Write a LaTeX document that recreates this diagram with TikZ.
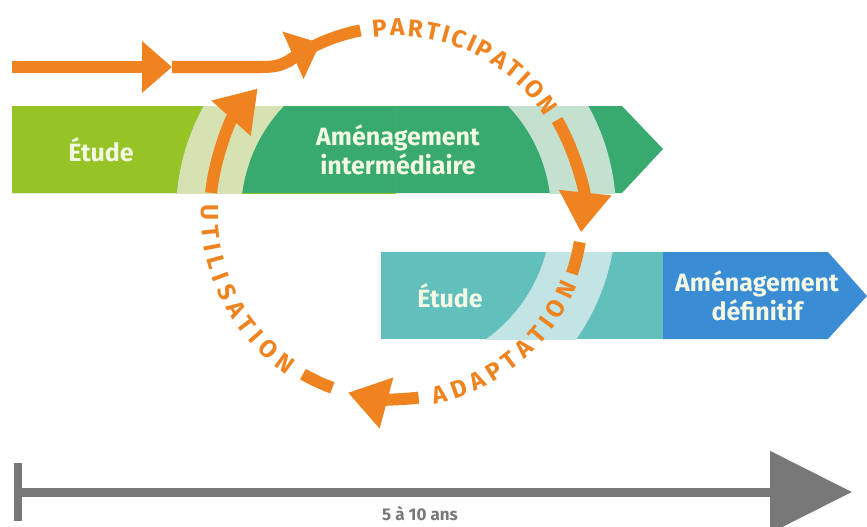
\documentclass[tikz,border=0pt]{standalone}
\usepackage{fontspec}
\setmainfont{Fira Sans}
\usetikzlibrary{arrows.meta,decorations.text,positioning,calc}

\definecolor{orng}{RGB}{239,131,32}
\definecolor{limegr}{RGB}{150,195,38}
\definecolor{darkgr}{RGB}{56,170,112}
\definecolor{tealbx}{RGB}{98,192,188}
\definecolor{bluebx}{RGB}{58,141,212}
\definecolor{paleL}{RGB}{214,226,178}
\definecolor{paleR}{RGB}{196,225,208}
\definecolor{paleT}{RGB}{194,228,228}
\definecolor{boxwhite}{RGB}{242,248,228}
\definecolor{timegrey}{RGB}{120,120,120}

\newcommand\cyclefont{\bfseries\fontsize{24.5}{24.5}\selectfont}

\begin{document}
\begin{tikzpicture}[x=1pt,y=1pt,
    boxtext/.style={text=boxwhite, font=\bfseries\fontsize{25}{29}\selectfont, align=center},
    cycle/.style={orng, line width=12pt},
    head/.style={-{Triangle[width=50pt,length=40pt]}},
    smallhead/.style={-{Triangle[width=50pt,length=30pt]}},
    cyclelabel/.style={font=\cyclefont, decorate, decoration={text along path, text align=fit to path,
        text color=orng, text={|\cyclefont|#1}}}
]
\useasboundingbox (0,0) rectangle (867,-527);

% centre of the cycle
\coordinate (cen) at (396,-213);

% Upper band
\fill[darkgr] (12,-106) -- (622,-106) -- (663,-149) -- (622,-193) -- (12,-193) -- cycle;
\begin{scope}
  \clip (12,-106) rectangle (396,-193);
  \fill[limegr, even odd rule] (12,-106) rectangle (396,-193) (cen) circle[radius=220];
  \fill[paleL, even odd rule] (cen) circle[radius=220] (cen) circle[radius=155];
\end{scope}
\begin{scope}
  \clip (396,-106) rectangle (622,-193);
  \fill[paleR, even odd rule] (cen) circle[radius=220] (cen) circle[radius=155];
\end{scope}

% Lower band
\fill[tealbx] (381,-252) rectangle (663,-339);
\fill[bluebx] (663,-252) -- (828,-252) -- (867,-296) -- (828,-339) -- (663,-339) -- cycle;
\begin{scope}
  \clip (381,-252) rectangle (663,-339);
  \fill[paleT, even odd rule] (cen) circle[radius=220] (cen) circle[radius=155];
\end{scope}

% Box texts
\node[boxtext] (etude1) at (101,-150) {Étude};
\node[boxtext] (amenint) at (398,-150) {Aménagement\\intermédiaire};
\node[boxtext] (etude2) at (450,-296) {Étude};
\node[boxtext] (amendef) at (757,-296) {Aménagement\\définitif};

% Entry arrow
\coordinate (entry) at (12,-67);
\coordinate (entryhead) at (172,-67);
\coordinate (entrybend) at (262,-67);
\draw[cycle, smallhead] (entry) -- (entryhead);
\draw[cycle] (entryhead) -- (entrybend) to[out=0,in=214] ($(cen)+(124:186)$)
  arc[start angle=124, end angle=101, radius=186];

% Cycle
\begin{scope}[shift={(cen)}, execute at begin scope={\cyclefont}]
  \draw[cycle, smallhead] (126:186) arc[start angle=126, end angle=114, radius=186];
  \path[cyclelabel=PARTICIPATION] (97.5:177) arc[start angle=97.5, end angle=33, radius=177];
  \draw[cycle, head] (30:186) arc[start angle=30, end angle=-6, radius=186];
  \draw[cycle] (-9:186) arc[start angle=-9, end angle=-19, radius=186];
  \path[cyclelabel=ADAPTATION] (281.5:195) arc[start angle=281.5, end angle=338, radius=195];
  \draw[cycle, head] (277:186) arc[start angle=277, end angle=255, radius=186];
  \draw[cycle] (250:186) arc[start angle=250, end angle=240, radius=186];
  \path[cyclelabel=UTILISATION] (177.5:195) arc[start angle=177.5, end angle=236, radius=195];
  \draw[cycle, head] (173.8:186) arc[start angle=173.8, end angle=138, radius=186];
\end{scope}

% Time line
\coordinate (t0) at (18,-492);
\coordinate (t1) at (852,-492);
\draw[timegrey, line width=8pt] (18,-463) -- (18,-521);
\draw[timegrey, line width=9pt, -{Triangle[width=80pt,length=82pt]}] (t0) -- (t1);
\node[text=timegrey, font=\bfseries\fontsize{17}{17}\selectfont] (duree) at (420,-514) {5 à 10 ans};

\end{tikzpicture}
\end{document}
